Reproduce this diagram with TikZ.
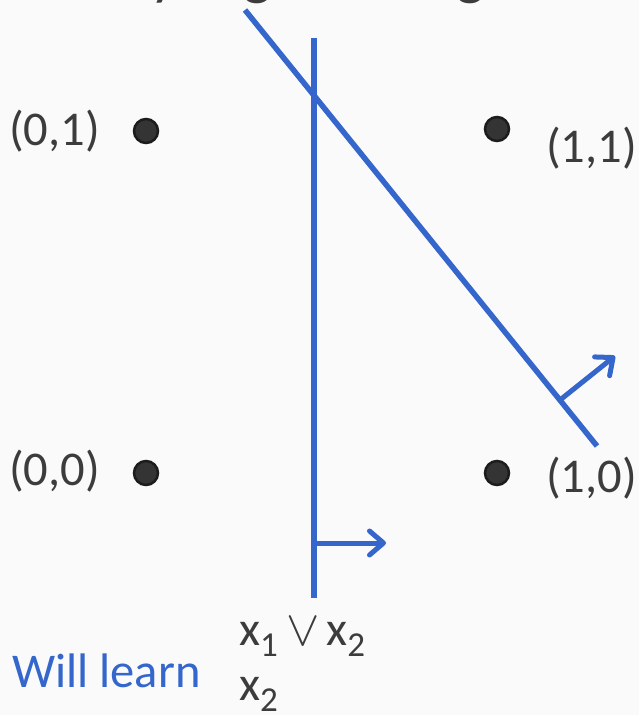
\documentclass[tikz,border=0pt]{standalone}
\usepackage{fontspec}
\setmainfont{Carlito}
\usetikzlibrary{arrows.meta}
\definecolor{bgc}{RGB}{250,250,250}
\definecolor{lblue}{RGB}{52,102,204}
\definecolor{tgray}{RGB}{60,60,60}
\definecolor{dotfill}{RGB}{52,52,52}
\definecolor{dotedge}{RGB}{28,28,28}
\tikzset{
  dot/.style={circle,fill=dotfill,draw=dotedge,line width=2.5pt,minimum size=24pt,inner sep=0pt},
  lbl/.style={anchor=base west,inner sep=0pt,text=tgray,font=\fontsize{48.5}{52}\selectfont},
  sep/.style={draw=lblue,line width=5.5pt},
  normal/.style={draw=lblue,line width=5pt,line cap=round,-{Straight Barb[length=14pt,width=24pt,round]}},
  title/.style={anchor=base west,inner sep=0pt,text=tgray,font=\fontsize{60}{64}\selectfont}
}
\newcommand{\subx}[1]{\raisebox{-11pt}{\fontsize{35}{37}\selectfont #1}}
\newcommand{\myorsym}{\scalebox{5}{\fontsize{10}{12}\selectfont$\vee$}}
\begin{document}
\begin{tikzpicture}[x=1pt,y=-1pt]
\useasboundingbox (0,0) rectangle (639,715);
\fill[bgc] (0,0) rectangle (639,715);
\clip (0,0) rectangle (639,715);
% cut-off title glyphs
\node[title] (t1) at (150,-7) {y};
\node[title] (t2) at (243,-7) {g};
\node[title] (t3) at (456,-7) {g};
% points
\node[dot] (d01) at (146,131) {};
\node[dot] (d11) at (497,129) {};
\node[dot] (d00) at (146,473) {};
\node[dot] (d10) at (497,473) {};
\node[lbl] (l01) at (9,145) {(0,1)};
\node[lbl] (l11) at (546,162) {(1,1)};
\node[lbl] (l00) at (9,485) {(0,0)};
\node[lbl] (l10) at (546,492) {(1,0)};
% separators
\coordinate (vt) at (314,38);
\coordinate (vb) at (314,598);
\coordinate (dt) at (245,10);
\coordinate (db) at (597,446);
\draw[sep] (vt) -- (vb);
\draw[sep] (dt) -- (db);
\coordinate (a1s) at (314,543);
\coordinate (a1e) at (386,543);
\coordinate (a2s) at (560,400);
\coordinate (a2e) at (615,356);
\draw[normal] (a1s) -- (a1e);
\draw[normal] (a2s) -- (a2e);
% labels below
\node[lbl] (or) at (239,645) {x\subx{1}\hspace{9pt}\myorsym\hspace{6pt}x\subx{2}};
\node[lbl] (x2) at (239,700) {x\subx{2}};
\node[lbl,text=lblue] (wl) at (12,687) {Will learn};
\end{tikzpicture}
\end{document}
